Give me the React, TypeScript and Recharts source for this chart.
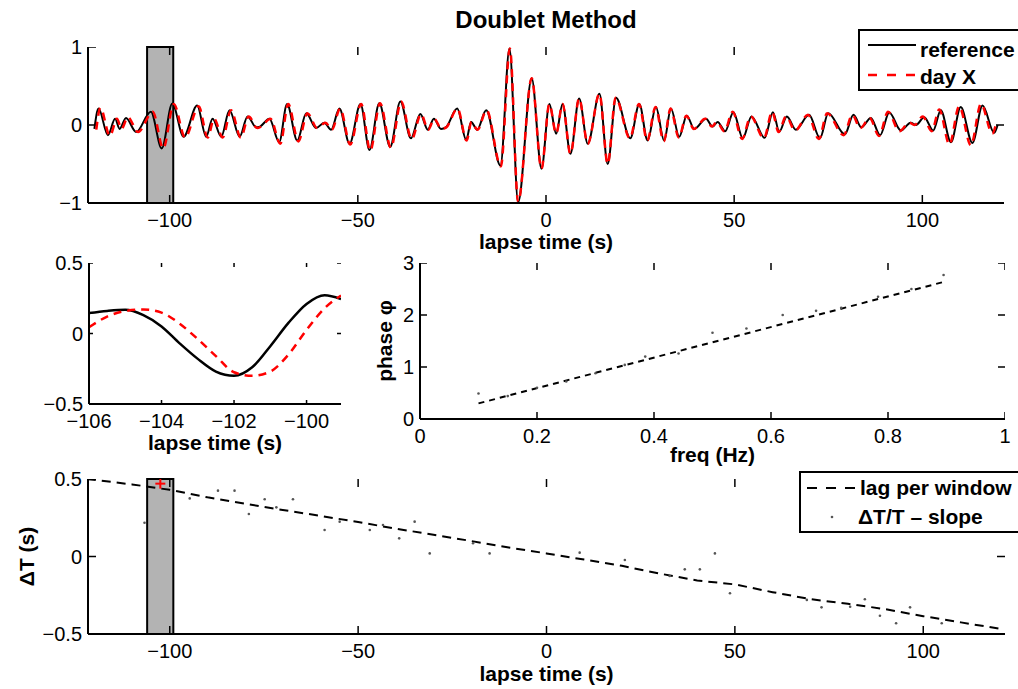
import React from "react";
import {
  ComposedChart,
  Line,
  Scatter,
  XAxis,
  YAxis,
  ReferenceArea,
  ReferenceLine,
  Label,
} from "recharts";

const FONT = '"Liberation Sans", Arial, Helvetica, sans-serif';

// top panel: extrema of the two traces (lapse time in s)
const refTime = [
  -120.0, -118.9, -116.4, -114.5, -113.3, -111.6, -108.9, -105.0, -102.1, -99.3,
  -96.3, -92.7, -90.3, -88.6, -86.3, -84.1, -81.4, -79.3, -77.0, -76.0,
  -73.5, -70.9, -68.8, -66.1, -63.7, -61.1, -58.9, -57.1, -54.9, -52.2,
  -49.3, -46.9, -44.3, -41.4, -38.7, -35.9, -33.4, -31.4, -29.8, -27.9,
  -26.6, -23.6, -21.2, -19.9, -18.3, -15.9, -12.1, -9.7, -7.4, -3.8,
  -1.2, 0.9, 2.7, 4.4, 6.5, 8.8, 11.1, 14.2, 16.4, 18.6,
  22.4, 24.8, 27.0, 29.2, 31.4, 33.2, 35.4, 37.4, 39.4, 42.5,
  44.3, 45.6, 47.6, 49.8, 52.3, 54.6, 58.1, 60.3, 62.0, 64.0,
  66.4, 69.9, 72.8, 75.0, 79.4, 81.7, 83.8, 86.3, 88.8, 91.2,
  94.3, 96.9, 98.3, 100.5, 102.9, 104.9, 107.6, 110.2, 113.3, 116.0,
  119.1, 120.0,
];
const refAmp = [
  -0.05, 0.21, -0.13, 0.08, -0.05, 0.09, -0.09, 0.17, -0.3, 0.275,
  -0.15, 0.25, -0.15, 0.08, -0.15, 0.19, -0.15, 0.11, -0.03, -0.02,
  0.08, -0.22, 0.27, -0.2, 0.15, -0.04, 0.03, -0.06, 0.21, -0.24,
  0.27, -0.32, 0.28, -0.28, 0.3, -0.17, 0.14, -0.06, 0.08, -0.05,
  -0.03, 0.21, -0.19, 0.04, -0.06, 0.19, -0.52, 0.98, -0.99, 0.6,
  -0.56, 0.27, -0.11, 0.27, -0.37, 0.34, -0.24, 0.4, -0.5, 0.35,
  -0.17, 0.27, -0.2, 0.23, -0.2, 0.21, -0.15, 0.12, -0.05, 0.08,
  -0.02, 0.04, -0.08, 0.165, -0.17, 0.11, -0.165, 0.165, -0.085, 0.11,
  -0.06, 0.13, -0.17, 0.15, -0.12, 0.13, -0.03, 0.09, -0.13, 0.16,
  -0.07, 0.03, 0.0, 0.1, -0.07, 0.19, -0.22, 0.23, -0.23, 0.25,
  -0.1, 0.0,
];
const dayTime = [
  -119.5, -118.4, -115.9, -114.0, -112.8, -111.1, -108.4, -104.5, -101.7, -98.9,
  -95.9, -92.3, -89.9, -88.2, -85.9, -83.7, -81.1, -79.0, -76.7, -75.7,
  -73.2, -70.6, -68.5, -65.8, -63.4, -60.8, -58.6, -56.9, -54.7, -52.0,
  -49.1, -46.7, -44.1, -41.2, -38.5, -35.7, -33.2, -31.3, -29.7, -27.8,
  -26.5, -23.5, -21.1, -19.8, -18.2, -15.8, -12.0, -9.6, -7.4, -3.8,
  -1.2, 0.9, 2.7, 4.4, 6.5, 8.8, 11.1, 14.2, 16.4, 18.5,
  22.3, 24.7, 26.9, 29.1, 31.3, 33.1, 35.3, 37.3, 39.3, 42.3,
  44.1, 45.4, 47.4, 49.6, 52.1, 54.4, 57.9, 60.1, 61.8, 63.8,
  66.2, 69.6, 72.5, 74.7, 79.1, 81.4, 83.5, 86.0, 88.5, 90.9,
  93.9, 96.5, 97.9, 100.1, 102.5, 104.5, 107.2, 109.8, 112.9, 115.6,
  118.6, 119.5,
];
const dayAmp = [
  -0.06, 0.22, -0.14, 0.08, -0.05, 0.1, -0.09, 0.17, -0.3, 0.27,
  -0.16, 0.24, -0.16, 0.08, -0.16, 0.19, -0.16, 0.11, -0.04, -0.02,
  0.08, -0.24, 0.27, -0.21, 0.15, -0.04, 0.03, -0.06, 0.21, -0.25,
  0.27, -0.33, 0.28, -0.29, 0.3, -0.18, 0.14, -0.06, 0.08, -0.05,
  -0.03, 0.21, -0.2, 0.04, -0.06, 0.19, -0.53, 0.98, -0.99, 0.6,
  -0.56, 0.27, -0.11, 0.27, -0.37, 0.34, -0.24, 0.4, -0.5, 0.35,
  -0.17, 0.27, -0.2, 0.23, -0.21, 0.21, -0.16, 0.12, -0.05, 0.08,
  -0.02, 0.04, -0.08, 0.17, -0.18, 0.11, -0.17, 0.17, -0.09, 0.11,
  -0.07, 0.13, -0.18, 0.15, -0.13, 0.13, -0.04, 0.09, -0.14, 0.17,
  -0.08, 0.03, 0.0, 0.11, -0.08, 0.2, -0.25, 0.24, -0.26, 0.27,
  -0.11, 0.0,
];

// zoomed window
const insetTime = [
  -106, -105.5, -105, -104.5, -104, -103.5, -103, -102.5, -102, -101.5,
  -101, -100.5, -100, -99.5, -99.05,
];
const insetRef = [
  0.145, 0.16, 0.168, 0.13, 0.05, -0.07, -0.18, -0.27, -0.3, -0.24,
  -0.09, 0.075, 0.21, 0.272, 0.245,
];
const insetDay = [
  0.045, 0.12, 0.16, 0.17, 0.148, 0.07, -0.04, -0.16, -0.275, -0.3,
  -0.27, -0.15, 0.026, 0.18, 0.27,
];

// phase vs frequency
const phaseFreq = [
  0.1, 0.15, 0.2, 0.25, 0.3, 0.35, 0.385, 0.442, 0.5, 0.558,
  0.62, 0.677, 0.72, 0.783, 0.84, 0.895,
];
const phaseVal = [
  0.49, 0.44, 0.6, 0.72, 0.88, 1.04, 1.2, 1.26, 1.66, 1.74,
  2.0, 2.08, 2.14, 2.35, 2.5, 2.77,
];
const fitFreq = [0.1, 0.9];
const fitPhase = [0.3, 2.65];

// lag per window (dashed) and scattered estimates
const lagTime = [
  -122, -110, -100, -90, -80, -70, -60, -50, -40, -30, -20, -10, 0,
  10, 20, 30, 40, 50, 60, 70, 80, 90, 100, 110, 120,
];
const lagVal = [
  0.5, 0.465, 0.43, 0.382, 0.34, 0.3, 0.262, 0.222, 0.18, 0.14, 0.1, 0.058, 0.02,
  -0.02, -0.06, -0.11, -0.155, -0.18, -0.23, -0.275, -0.305, -0.34, -0.385, -0.425, -0.465,
];
const slopeTime = [
  -106.7, -94.7, -87.2, -82.8, -79.0, -74.8, -71.7, -67.3, -58.9, -54.9,
  -46.9, -43.4, -39.1, -35.0, -31.0, -19.5, -15.1, 8.8, 20.8, 32.7,
  36.7, 40.7, 44.7, 48.7, 69.1, 73.0, 80.6, 84.5, 88.5, 92.8,
  96.5, 104.9,
];
const slopeVal = [
  0.218, 0.375, 0.425, 0.425, 0.274, 0.369, 0.317, 0.369, 0.171, 0.225,
  0.171, 0.203, 0.117, 0.225, 0.02, 0.085, 0.02, 0.025, -0.023, -0.126,
  -0.083, -0.083, 0.02, -0.237, -0.28, -0.328, -0.324, -0.276, -0.382, -0.431,
  -0.328, -0.431,
];
const pickedTime = [-102.5];
const pickedLag = [0.47];

const windowStart = -106;
const windowEnd = -99.05;
const lapseDomain: [number, number] = [-121.7, 121.7];
const lapseTicks = [-100, -50, 0, 50, 100];

const toPoints = (xs: number[], ys: number[]) =>
  xs.map((t, i) => ({ t, v: ys[i] }));

const tickFont = { fill: "#000", fontSize: 20, fontFamily: FONT };
const labelFont = { fill: "#000", fontSize: 21, fontWeight: 700, fontFamily: FONT };
const frameLine = { stroke: "#000", strokeWidth: 2 };
const fmt = (v: number) => String(v).replace("-", "\u2212");

const X_GAP = 10; // label distance below the frame
const Y_GAP = 6; // label distance left of the frame

const bottomLabel = (p: any) => (
  <text x={p.x} y={p.y} dy="0.71em" textAnchor="middle" {...tickFont}>
    {fmt(p.payload.value)}
  </text>
);
const leftLabel = (p: any) => (
  <text x={p.x} y={p.y} dy="0.355em" textAnchor="end" {...tickFont}>
    {fmt(p.payload.value)}
  </text>
);

type FrameOpts = {
  xDomain: [number, number];
  yDomain: [number, number];
  xTicks: number[];
  yTicks: number[];
  plotW: number;
  plotH: number;
  yWidth: number;
  xHeight: number;
  tick: number;
  xLabel: string;
  xLabelOffset: number;
  yLabel?: string;
  yLabelOffset?: number;
};

// MATLAB-style box: four frame lines plus short tick marks pointing inward
function frameAxes(o: FrameOpts) {
  const [x0, x1] = o.xDomain;
  const [y0, y1] = o.yDomain;
  const dx = (o.tick * (x1 - x0)) / o.plotW;
  const dy = (o.tick * (y1 - y0)) / o.plotH;
  const mark = (key: string, xs: number[], ys: number[]) => (
    <Line
      key={key}
      data={toPoints(xs, ys)}
      dataKey="v"
      type="linear"
      stroke="#000"
      strokeWidth={1.5}
      dot={false}
      activeDot={false}
      legendType="none"
      isAnimationActive={false}
    />
  );
  const seg = (key: string, a: { x: number; y: number }, b: { x: number; y: number }) => (
    <ReferenceLine
      key={key}
      xAxisId="top"
      yAxisId="right"
      segment={[a, b]}
      ifOverflow="visible"
      stroke="#000"
      strokeWidth={1.5}
    />
  );
  const marks = [
    ...o.xTicks.flatMap((v) => [
      mark(`xt${v}`, [v, v], [y1 - dy, y1]),
      mark(`xb${v}`, [v, v], [y0, y0 + dy]),
      seg(`sb${v}`, { x: v, y: y0 + dy }, { x: v, y: y0 }),
    ]),
    ...o.yTicks.flatMap((v) => [
      mark(`yr${v}`, [x1 - dx, x1], [v, v]),
      mark(`yl${v}`, [x0, x0 + dx], [v, v]),
      seg(`sl${v}`, { x: x0 + dx, y: v }, { x: x0, y: v }),
    ]),
  ];
  return [
    <XAxis
      key="bottom"
      dataKey="t"
      type="number"
      domain={o.xDomain}
      allowDataOverflow
      ticks={o.xTicks}
      interval={0}
      height={o.xHeight}
      axisLine={frameLine}
      tickLine={false}
      tickSize={0}
      tickMargin={X_GAP}
      tick={bottomLabel}
    >
      <Label value={o.xLabel} position="insideTop" offset={o.xLabelOffset} style={labelFont} />
    </XAxis>,
    <XAxis
      key="top"
      xAxisId="top"
      orientation="top"
      type="number"
      domain={o.xDomain}
      allowDataOverflow
      height={0}
      axisLine={frameLine}
      tickLine={false}
      tick={false}
    />,
    <YAxis
      key="left"
      dataKey="v"
      type="number"
      domain={o.yDomain}
      allowDataOverflow
      ticks={o.yTicks}
      interval={0}
      width={o.yWidth}
      axisLine={frameLine}
      tickLine={false}
      tickSize={0}
      tickMargin={Y_GAP}
      tick={leftLabel}
    >
      {o.yLabel ? (
        <Label
          value={o.yLabel}
          angle={-90}
          position="insideLeft"
          offset={o.yLabelOffset}
          style={{ ...labelFont, textAnchor: "middle" }}
        />
      ) : null}
    </YAxis>,
    <YAxis
      key="right"
      yAxisId="right"
      orientation="right"
      type="number"
      domain={o.yDomain}
      allowDataOverflow
      width={0}
      axisLine={frameLine}
      tickLine={false}
      tick={false}
    />,
    ...marks,
  ];
}

const smallDot = (p: any) => <circle cx={p.cx} cy={p.cy} r={1.3} fill="#555" />;
const redPlus = (p: any) => (
  <g stroke="#f00" strokeWidth={2}>
    <line x1={p.cx - 5} x2={p.cx + 5} y1={p.cy} y2={p.cy} />
    <line x1={p.cx} x2={p.cx} y1={p.cy - 5} y2={p.cy + 5} />
  </g>
);

export default function App() {
  const refData = toPoints(refTime, refAmp);
  const dayData = toPoints(dayTime, dayAmp);
  const insetRefData = toPoints(insetTime, insetRef);
  const insetDayData = toPoints(insetTime, insetDay);
  const phaseData = toPoints(phaseFreq, phaseVal);
  const fitData = toPoints(fitFreq, fitPhase);
  const lagData = toPoints(lagTime, lagVal);
  const slopeData = toPoints(slopeTime, slopeVal);
  const pickedData = toPoints(pickedTime, pickedLag);

  return (
    <div
      style={{
        position: "absolute",
        left: 0,
        top: 0,
        width: 1018,
        height: 689,
        overflow: "hidden",
        background: "#fff",
        fontFamily: FONT,
      }}
    >
      <div
        style={{
          position: "absolute",
          left: 246,
          top: 8,
          width: 600,
          textAlign: "center",
          fontSize: 24,
          lineHeight: "24px",
          fontWeight: 700,
        }}
      >
        Doublet Method
      </div>

      {/* waveforms */}
      <div style={{ position: "absolute", left: 18, top: 37 }}>
        <ComposedChart width={996} height={226} margin={{ top: 10, right: 10, bottom: 0, left: 0 }}>
          {frameAxes({
            xDomain: lapseDomain,
            yDomain: [-1, 1],
            xTicks: lapseTicks,
            yTicks: [-1, 0, 1],
            plotW: 916,
            plotH: 156,
            yWidth: 70,
            xHeight: 60,
            tick: 8,
            xLabel: "lapse time (s)",
            xLabelOffset: 31,
          })}
          <ReferenceArea
            x1={windowStart}
            x2={windowEnd}
            y1={-1}
            y2={1}
            fill="#b3b3b3"
            fillOpacity={1}
            stroke="#000"
            strokeWidth={2}
          />
          <Line data={refData} dataKey="v" type="monotone" stroke="#000" strokeWidth={2} dot={false} activeDot={false} isAnimationActive={false} />
          <Line data={dayData} dataKey="v" type="monotone" stroke="#f00" strokeWidth={2.5} strokeDasharray="8 6" dot={false} activeDot={false} isAnimationActive={false} />
        </ComposedChart>
      </div>

      {/* zoomed window */}
      <div style={{ position: "absolute", left: 19, top: 253 }}>
        <ComposedChart width={332} height={211} margin={{ top: 10, right: 10, bottom: 0, left: 0 }}>
          {frameAxes({
            xDomain: [windowStart, windowEnd],
            yDomain: [-0.5, 0.5],
            xTicks: [-106, -104, -102, -100],
            yTicks: [-0.5, 0, 0.5],
            plotW: 252,
            plotH: 141,
            yWidth: 70,
            xHeight: 60,
            tick: 4,
            xLabel: "lapse time (s)",
            xLabelOffset: 31,
          })}
          <Line data={insetRefData} dataKey="v" type="monotone" stroke="#000" strokeWidth={2.5} dot={false} activeDot={false} isAnimationActive={false} />
          <Line data={insetDayData} dataKey="v" type="monotone" stroke="#f00" strokeWidth={2.5} strokeDasharray="8 6" dot={false} activeDot={false} isAnimationActive={false} />
        </ComposedChart>
      </div>

      {/* phase vs frequency */}
      <div style={{ position: "absolute", left: 340, top: 253 }}>
        <ComposedChart width={675} height={226} margin={{ top: 10, right: 10, bottom: 0, left: 0 }}>
          {frameAxes({
            xDomain: [0, 1],
            yDomain: [0, 3],
            xTicks: [0, 0.2, 0.4, 0.6, 0.8, 1],
            yTicks: [0, 1, 2, 3],
            plotW: 585,
            plotH: 156,
            yWidth: 80,
            xHeight: 60,
            tick: 7,
            xLabel: "freq (Hz)",
            xLabelOffset: 28,
            yLabel: "phase \u03c6",
            yLabelOffset: 45,
          })}
          <Scatter data={phaseData} dataKey="v" shape={smallDot} isAnimationActive={false} />
          <Line data={fitData} dataKey="v" type="linear" stroke="#000" strokeWidth={2} strokeDasharray="6 5" dot={false} activeDot={false} isAnimationActive={false} />
        </ComposedChart>
      </div>

      {/* time shift per window */}
      <div style={{ position: "absolute", left: 8, top: 469 }}>
        <ComposedChart width={1007} height={220} margin={{ top: 10, right: 10, bottom: 0, left: 0 }}>
          {frameAxes({
            xDomain: lapseDomain,
            yDomain: [-0.5, 0.5],
            xTicks: lapseTicks,
            yTicks: [-0.5, 0, 0.5],
            plotW: 917,
            plotH: 155,
            yWidth: 80,
            xHeight: 55,
            tick: 8,
            xLabel: "lapse time (s)",
            xLabelOffset: 32,
            yLabel: "\u0394T (s)",
            yLabelOffset: 19,
          })}
          <ReferenceArea
            x1={windowStart}
            x2={windowEnd}
            y1={-0.5}
            y2={0.5}
            fill="#b3b3b3"
            fillOpacity={1}
            stroke="#000"
            strokeWidth={2}
          />
          <Scatter data={slopeData} dataKey="v" shape={smallDot} isAnimationActive={false} />
          <Line data={lagData} dataKey="v" type="linear" stroke="#000" strokeWidth={2} strokeDasharray="9 6" dot={false} activeDot={false} isAnimationActive={false} />
          <Scatter data={pickedData} dataKey="v" shape={redPlus} isAnimationActive={false} />
        </ComposedChart>
      </div>

      {/* legend, top panel */}
      <div
        style={{
          position: "absolute",
          left: 858,
          top: 29,
          width: 175,
          height: 62,
          border: "2px solid #000",
          boxSizing: "border-box",
          background: "#fff",
        }}
      >
        <svg width={175} height={60} style={{ position: "absolute", left: 0, top: 0 }}>
          <line x1={8} x2={56} y1={14} y2={14} stroke="#000" strokeWidth={2} />
          <line x1={8} x2={56} y1={44} y2={44} stroke="#f00" strokeWidth={2.5} strokeDasharray="9 10" />
        </svg>
        <span style={{ position: "absolute", left: 60, top: 8, fontSize: 21, lineHeight: "21px", fontWeight: 700, whiteSpace: "nowrap" }}>
          reference
        </span>
        <span style={{ position: "absolute", left: 60, top: 35, fontSize: 21, lineHeight: "21px", fontWeight: 700, whiteSpace: "nowrap" }}>
          day X
        </span>
      </div>

      {/* legend, bottom panel */}
      <div
        style={{
          position: "absolute",
          left: 799,
          top: 471,
          width: 240,
          height: 62,
          border: "2px solid #000",
          boxSizing: "border-box",
          background: "#fff",
        }}
      >
        <svg width={240} height={60} style={{ position: "absolute", left: 0, top: 0 }}>
          <line x1={6} x2={54} y1={15} y2={15} stroke="#000" strokeWidth={2} strokeDasharray="10 9" />
          <circle cx={31} cy={44} r={1.3} fill="#555" />
        </svg>
        <span style={{ position: "absolute", left: 59, top: 4, fontSize: 21, lineHeight: "21px", fontWeight: 700, whiteSpace: "nowrap" }}>
          lag per window
        </span>
        <span style={{ position: "absolute", left: 57, top: 33, fontSize: 21, lineHeight: "21px", fontWeight: 700, whiteSpace: "nowrap" }}>
          {"\u0394T/T \u2013 slope"}
        </span>
      </div>
    </div>
  );
}
